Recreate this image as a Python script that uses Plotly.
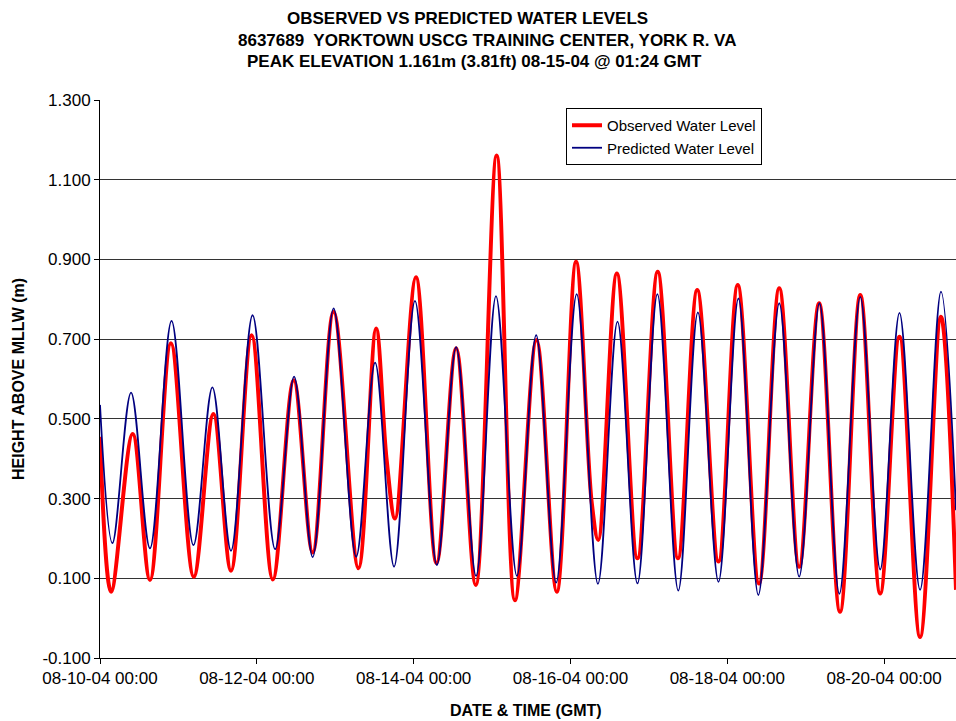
import plotly.graph_objects as go

# observed water level (highs / lows plus a few shoulders)
obs_time = [
    "2004-08-10 00:00", "2004-08-10 03:24", "2004-08-10 10:00", "2004-08-10 15:18",
    "2004-08-10 21:42", "2004-08-11 04:42", "2004-08-11 10:42", "2004-08-11 16:06",
    "2004-08-11 22:24", "2004-08-12 04:54", "2004-08-12 11:18", "2004-08-12 17:06",
    "2004-08-12 23:30", "2004-08-13 07:06", "2004-08-13 12:30", "2004-08-13 15:42",
    "2004-08-13 18:18", "2004-08-14 00:42", "2004-08-14 07:00", "2004-08-14 13:00",
    "2004-08-14 19:00", "2004-08-15 01:24", "2004-08-15 07:00", "2004-08-15 13:36",
    "2004-08-15 19:48", "2004-08-16 01:42", "2004-08-16 06:30", "2004-08-16 08:30",
    "2004-08-16 14:12", "2004-08-16 20:30", "2004-08-17 02:42", "2004-08-17 08:54",
    "2004-08-17 14:48", "2004-08-17 21:18", "2004-08-18 03:12", "2004-08-18 09:42",
    "2004-08-18 15:54", "2004-08-18 22:00", "2004-08-19 04:06", "2004-08-19 10:30",
    "2004-08-19 16:42", "2004-08-19 22:48", "2004-08-20 04:42", "2004-08-20 11:00",
    "2004-08-20 17:24", "2004-08-20 22:00",
]
obs_level = [
    0.455, 0.066, 0.462, 0.096,
    0.690, 0.104, 0.512, 0.119,
    0.710, 0.097, 0.597, 0.165,
    0.769, 0.125, 0.727, 0.400,
    0.250, 0.855, 0.138, 0.677,
    0.083, 1.161, 0.045, 0.698,
    0.066, 0.894, 0.290, 0.196,
    0.865, 0.150, 0.869, 0.150,
    0.823, 0.142, 0.836, 0.087,
    0.828, 0.129, 0.790, 0.016,
    0.811, 0.062, 0.706, -0.047,
    0.756, 0.071,
]

# predicted water level
pred_time = [
    "2004-08-10 00:00", "2004-08-10 03:48", "2004-08-10 09:30", "2004-08-10 15:18",
    "2004-08-10 21:54", "2004-08-11 04:36", "2004-08-11 10:24", "2004-08-11 16:06",
    "2004-08-11 22:42", "2004-08-12 05:36", "2004-08-12 11:24", "2004-08-12 17:06",
    "2004-08-12 23:30", "2004-08-13 06:24", "2004-08-13 12:12", "2004-08-13 18:00",
    "2004-08-14 00:24", "2004-08-14 07:06", "2004-08-14 13:00", "2004-08-14 19:06",
    "2004-08-15 01:12", "2004-08-15 07:36", "2004-08-15 13:30", "2004-08-15 19:36",
    "2004-08-16 01:54", "2004-08-16 08:24", "2004-08-16 14:24", "2004-08-16 20:30",
    "2004-08-17 02:36", "2004-08-17 09:00", "2004-08-17 15:00", "2004-08-17 21:18",
    "2004-08-18 03:24", "2004-08-18 09:30", "2004-08-18 15:54", "2004-08-18 22:00",
    "2004-08-19 04:12", "2004-08-19 10:18", "2004-08-19 16:42", "2004-08-19 22:48",
    "2004-08-20 04:42", "2004-08-20 11:00", "2004-08-20 17:24", "2004-08-20 22:00",
]
pred_level = [
    0.535, 0.188, 0.566, 0.175,
    0.746, 0.183, 0.579, 0.169,
    0.760, 0.173, 0.606, 0.153,
    0.777, 0.154, 0.641, 0.129,
    0.796, 0.133, 0.680, 0.106,
    0.808, 0.106, 0.710, 0.089,
    0.813, 0.086, 0.744, 0.087,
    0.813, 0.069, 0.767, 0.091,
    0.802, 0.058, 0.790, 0.104,
    0.790, 0.061, 0.806, 0.122,
    0.766, 0.071, 0.819, 0.271,
]

# y axis ticks (the original prints a plain hyphen for the minus)
y_ticks = [-0.1, 0.1, 0.3, 0.5, 0.7, 0.9, 1.1, 1.3]
y_ticklabels = ["-0.100", "0.100", "0.300", "0.500", "0.700", "0.900", "1.100", "1.300"]

title_lines = [
    "OBSERVED VS PREDICTED WATER LEVELS",
    "8637689  YORKTOWN USCG TRAINING CENTER, YORK R. VA",
    "PEAK ELEVATION 1.161m (3.81ft) 08-15-04 @ 01:24 GMT",
]

FONT = "Liberation Sans, Arial, sans-serif"

# plot area in pixels: x 100..956, y 100..658
def px_x(px):
    return (px - 100) / 856.0

def px_y(py):
    return (658 - py) / 558.0


def build_figure():
    fig = go.Figure()
    fig.add_trace(go.Scatter(
        x=obs_time, y=obs_level, mode="lines", name="Observed Water Level",
        line=dict(color="#ff0000", width=4, shape="spline", smoothing=1.0),
    ))
    fig.add_trace(go.Scatter(
        x=pred_time, y=pred_level, mode="lines", name="Predicted Water Level",
        line=dict(color="#000080", width=1.8, shape="spline", smoothing=1.0),
    ))

    # title lines are not centred on the same spot in the original
    centres = [467.5, 486.7, 474.2]
    rows = [18, 40, 62]
    for text, cx, cy in zip(title_lines, centres, rows):
        fig.add_annotation(
            text="<b>%s</b>" % text, xref="paper", yref="paper",
            x=px_x(cx), y=px_y(cy), xanchor="center", yanchor="middle",
            showarrow=False, font=dict(family=FONT, size=17, color="black"),
        )

    fig.add_annotation(
        text="<b>DATE & TIME (GMT)</b>", xref="paper", yref="paper",
        x=px_x(526), y=px_y(710), xanchor="center", yanchor="middle",
        showarrow=False, font=dict(family=FONT, size=16, color="black"),
    )
    fig.add_annotation(
        text="<b>HEIGHT ABOVE MLLW (m)</b>", xref="paper", yref="paper",
        x=px_x(18), y=px_y(379), xanchor="center", yanchor="middle",
        textangle=-90, showarrow=False,
        font=dict(family=FONT, size=16, color="black"),
    )

    fig.update_layout(
        width=956, height=721,
        margin=dict(l=100, r=0, t=100, b=63),
        paper_bgcolor="white", plot_bgcolor="white",
        font=dict(family=FONT, size=17, color="black"),
        showlegend=True,
        legend=dict(
            x=px_x(566), y=px_y(108), xanchor="left", yanchor="top",
            bgcolor="white", bordercolor="black", borderwidth=1,
            font=dict(family=FONT, size=15, color="black"),
            tracegroupgap=0,
        ),
    )
    fig.update_xaxes(
        type="date", range=["2004-08-10 00:00", "2004-08-20 22:00"],
        tick0="2004-08-10", dtick=2 * 86400000, tickformat="%m-%d-%y %H:%M",
        showgrid=False, zeroline=False,
        showline=True, linecolor="black", linewidth=1,
        ticks="outside", ticklen=5, tickcolor="black",
    )
    fig.update_yaxes(
        range=[-0.1, 1.3], tickmode="array",
        tickvals=y_ticks, ticktext=y_ticklabels,
        showgrid=True, gridcolor="#333333", gridwidth=1, zeroline=False,
        showline=True, linecolor="black", linewidth=1,
        ticks="outside", ticklen=5, tickcolor="black",
    )
    return fig


def main():
    fig = build_figure()
    # drop the browser's default body margin so the figure fills the window
    fig.write_html(
        "out.html",
        config={"displayModeBar": False},
        post_script="document.body.style.margin='0';document.body.style.overflow='hidden';",
    )


if __name__ == "__main__":
    main()
